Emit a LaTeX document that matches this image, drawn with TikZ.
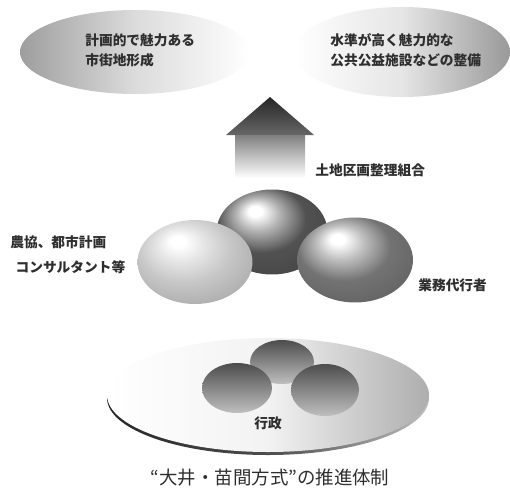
\documentclass[tikz,border=0pt]{standalone}
\usepackage{fontspec}
\newfontfamily\jp{Noto Sans CJK JP}
\usetikzlibrary{shapes.geometric}
\definecolor{sumi}{HTML}{2E2E2E}
\colorlet{tamairo}{gray}
% highlight sits upper left, colour taken from tamairo
\pgfdeclareradialshading[tamairo]{tama}{\pgfpoint{-8bp}{13bp}}{%
  color(0bp)=(white); color(3bp)=(white); color(10bp)=(tamairo!45!white);
  color(20bp)=(tamairo); color(34bp)=(tamairo!85!black);
  color(50bp)=(tamairo!75!black)}

\begin{document}
\begin{tikzpicture}[x=0.02cm,y=0.02cm,
    lbl/.style={font=\jp\bfseries\fontsize{7.8}{11.3}\selectfont,align=left,inner sep=0pt,text=sumi},
    tama/.style={ellipse,inner sep=0pt,shading=tama},
    iro/.code={\colorlet{tamairo}{#1}},
    kotama/.style={ellipse,inner sep=0pt,top color=black!70,bottom color=black!25}]
  \useasboundingbox (0,0) rectangle (510,495);

  % mokuhyo (two clouds)
  \shade[left color=black!38,right color=white,middle color=black!14] (135,443) ellipse (115 and 42);
  \shade[left color=white,right color=black!40,middle color=black!10] (402,443) ellipse (108 and 45);
  \node[lbl,anchor=west] (keikaku) at (85,445) {計画的で魅力ある\\市街地形成};
  \node[lbl,anchor=west] (suijun) at (330,445) {水準が高く魅力的な\\公共公益施設などの整備};

  % ue muki yajirushi
  \shade[top color=black!85,bottom color=black!60] (226,360) -- (270,398) -- (314,360) -- cycle;
  \shade[top color=black!50,bottom color=white] (235,317) rectangle (305,360);
  \node[lbl,anchor=west] (kumiai) at (315,325) {土地区画整理組合};

  % san-sha no tama
  \node[tama,iro=black!68,minimum width=2.22cm,minimum height=1.70cm] (tKumiai) at (272,263) {};
  \node[tama,iro=black!22,minimum width=2.30cm,minimum height=1.68cm] (tNokyo) at (195,233) {};
  \node[tama,iro=black!55,minimum width=2.32cm,minimum height=1.70cm] (tDaiko) at (355,235) {};
  \node[lbl,anchor=west] (nokyo) at (10,240) {農協、都市計画\\[3pt]\hspace{3pt}コンサルタント等};
  \node[lbl,anchor=west] (daiko) at (418,210) {業務代行者};

  % gyosei no sara
  \shade[left color=black!85,right color=black!25,middle color=black!70] (268,97) ellipse (161 and 57);
  \shade[left color=white,right color=black!32,middle color=black!5] (268,100) ellipse (161 and 57);
  \node[kotama,minimum width=1.28cm,minimum height=0.88cm] (sUe) at (282,133) {};
  \node[kotama,minimum width=1.40cm,minimum height=1.00cm] (sHidari) at (237,107) {};
  \node[kotama,minimum width=1.36cm,minimum height=1.04cm] (sMigi) at (325,105) {};
  \node[lbl] (gyosei) at (268,72) {行政};

  \node[font=\jp\fontsize{10.5}{12}\selectfont,text=sumi] (midashi) at (270,17) {“大井・苗間方式”の推進体制};
\end{tikzpicture}
\end{document}
